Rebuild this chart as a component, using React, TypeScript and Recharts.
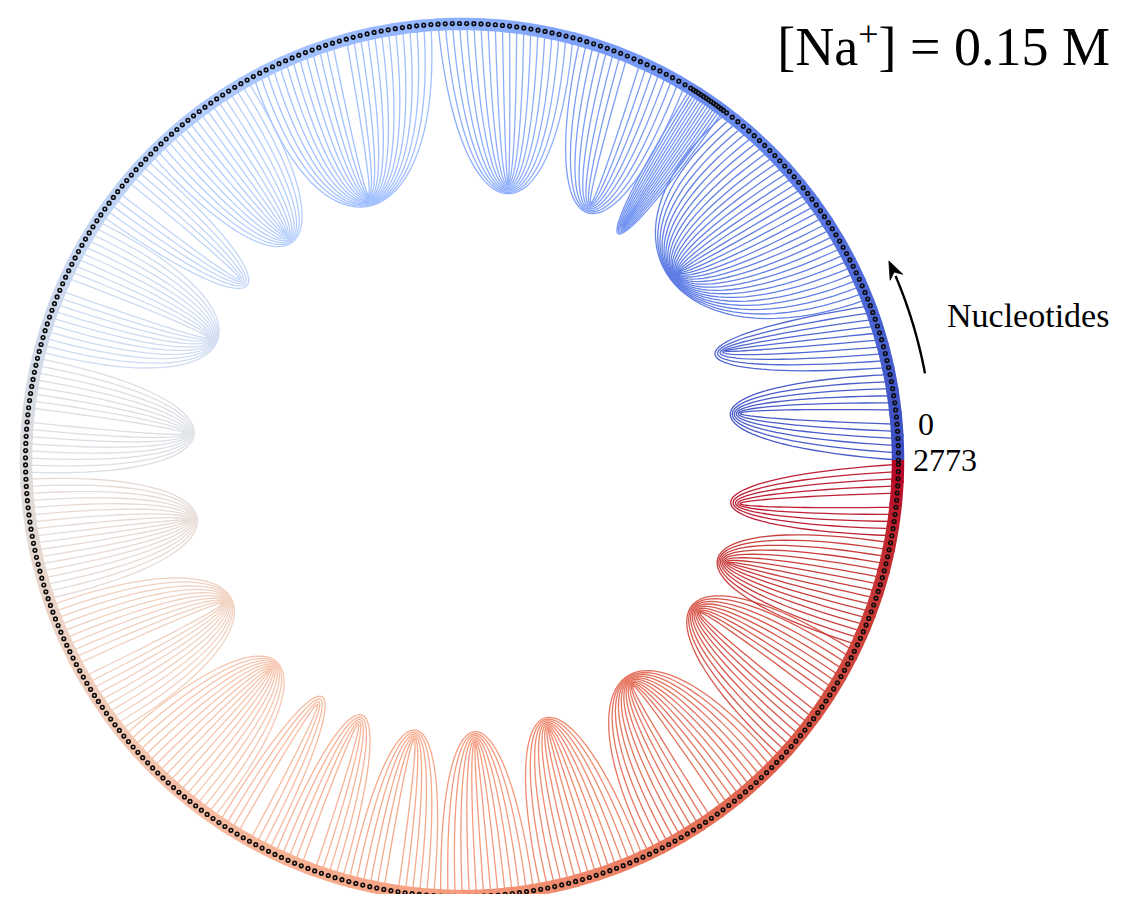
import React from 'react';
import { ComposedChart, Line, Scatter, XAxis, YAxis } from 'recharts';

// ---------- layout constants (chart-local pixels) ----------
const W = 1119;
const H = 886;
const CX = 454;
const CY = 452;
const R_RING = 436;
const R_BEAD = 436.5;

// ---------- data ----------
const NT_TOTAL = 2774; // nucleotides 0 .. 2773
const BEAD_STEP = 7.25; // nucleotides per coarse-grained bead
const DENSE_FROM = 410; // densely sampled single-strand region
const DENSE_TO = 450;
const DENSE_COUNT = 14;

// hairpin lobes (stem regions) : nucleotide range, tip angle (deg), tip radius (px)
const LOBE_START = [0, 89, 161, 408, 452, 573, 724, 920, 1045, 1127, 1281, 1406, 1533, 1688, 1819, 1884, 1961, 2057, 2158, 2273, 2443, 2581, 2693];
const LOBE_END = [89, 161, 408, 452, 573, 724, 920, 1045, 1127, 1281, 1406, 1533, 1688, 1819, 1884, 1961, 2057, 2158, 2273, 2443, 2581, 2693, 2774];
const TIP_ANGLE = [9.5, 22.5, 40.9, 55.4, 63.4, 80.6, 109.4, 127.9, 140.9, 154.3, 174.5, 192.3, 210.9, 227.5, 239.4, 248.6, 260.3, 272.7, 287.8, 307.1, 327.3, 339.0, 351.1];
const TIP_RADIUS = [272, 274, 276, 275, 277, 270, 270, 276, 277, 272, 269, 271, 269, 274, 275, 274, 274, 272, 271, 272, 272, 274, 272];

const END_LABELS = ['0', '2773'];
const TITLE = { pre: '[Na', sup: '+', post: '] = 0.15 M' };
const AXIS_LABEL = 'Nucleotides';

// coolwarm colour map lookup
const COOLWARM = [
  [59, 76, 192], [68, 90, 204], [77, 104, 215], [87, 117, 225], [98, 130, 234], [108, 142, 241],
  [119, 154, 247], [130, 165, 251], [141, 176, 254], [152, 185, 255], [163, 194, 255], [174, 201, 253],
  [184, 208, 249], [194, 213, 244], [204, 217, 238], [213, 219, 230], [221, 221, 221], [229, 216, 209],
  [236, 211, 197], [241, 204, 184], [245, 196, 173], [247, 187, 160], [247, 177, 148], [247, 166, 135],
  [244, 154, 123], [241, 141, 111], [236, 127, 99], [229, 112, 88], [222, 96, 77], [213, 80, 66],
  [203, 62, 56], [192, 40, 47], [180, 4, 38],
];

function coolwarm(f: number): string {
  const t = Math.max(0, Math.min(1, f)) * (COOLWARM.length - 1);
  const i = Math.min(COOLWARM.length - 2, Math.floor(t));
  const u = t - i;
  const c = COOLWARM[i].map((v, k) => Math.round(v + (COOLWARM[i + 1][k] - v) * u));
  return `rgb(${c[0]},${c[1]},${c[2]})`;
}

const ntToDeg = (nt: number) => (nt / NT_TOTAL) * 360;
function polar(deg: number, r: number) {
  const a = (deg * Math.PI) / 180;
  return { x: CX + r * Math.cos(a), y: CY - r * Math.sin(a) };
}

// bead positions (nucleotide coordinates)
const beadNts: number[] = [];
for (let nt = 0; nt < NT_TOTAL - 1; nt += BEAD_STEP) {
  if (nt >= DENSE_FROM - 2 && nt <= DENSE_TO + 2) continue;
  beadNts.push(nt);
}
for (let k = 0; k < DENSE_COUNT; k++) {
  beadNts.push(DENSE_FROM + (k * (DENSE_TO - DENSE_FROM)) / (DENSE_COUNT - 1));
}
beadNts.sort((a, b) => a - b);

const beadPoints = beadNts.map((nt) => polar(ntToDeg(nt), R_BEAD));

// base-pair curves (hairpins passing through the lobe tip)
const CUBIC_WEIGHT = 0.55;
type Curve = { id: string; color: string; pts: { x: number; y: number }[] };
const curves: Curve[] = [];
LOBE_START.forEach((s, li) => {
  const e = LOBE_END[li];
  const lb = beadNts.filter((nt) => nt >= s && nt < e);
  const n = lb.length;
  if (n < 2) return;
  const full = lb[n - 1] - lb[0];
  const color = coolwarm((s + e) / 2 / NT_TOTAL);
  for (let k = 0; k < Math.floor(n / 2); k++) {
    const a = lb[k];
    const b = lb[n - 1 - k];
    const w = (b - a) / full;
    const A = polar(ntToDeg(a), R_RING);
    const B = polar(ntToDeg(b), R_RING);
    const T = polar(TIP_ANGLE[li], TIP_RADIUS[li] + 12 * (1 - w));
    const M = { x: (A.x + B.x) / 2, y: (A.y + B.y) / 2 };
    const D = { x: T.x - M.x, y: T.y - M.y };
    const P1 = { x: A.x + (4 / 3) * D.x, y: A.y + (4 / 3) * D.y };
    const P2 = { x: B.x + (4 / 3) * D.x, y: B.y + (4 / 3) * D.y };
    const Q = { x: 2 * T.x - M.x, y: 2 * T.y - M.y };
    const pts = [];
    const N = 40;
    for (let i = 0; i <= N; i++) {
      const t = i / N;
      const c0 = (1 - t) ** 3;
      const c1 = 3 * t * (1 - t) ** 2;
      const c2 = 3 * t * t * (1 - t);
      const c3 = t ** 3;
      const cx = c0 * A.x + c1 * P1.x + c2 * P2.x + c3 * B.x;
      const cy = c0 * A.y + c1 * P1.y + c2 * P2.y + c3 * B.y;
      const q0 = (1 - t) * (1 - t);
      const q1 = 2 * t * (1 - t);
      const q2 = t * t;
      const qx = q0 * A.x + q1 * Q.x + q2 * B.x;
      const qy = q0 * A.y + q1 * Q.y + q2 * B.y;
      pts.push({
        x: CUBIC_WEIGHT * cx + (1 - CUBIC_WEIGHT) * qx,
        y: CUBIC_WEIGHT * cy + (1 - CUBIC_WEIGHT) * qy,
      });
    }
    curves.push({ id: `c${li}_${k}`, color, pts });
  }
});

// coloured ring
const RING_SEGMENTS = 120;
const ringSegs = Array.from({ length: RING_SEGMENTS }, (_, s) => {
  const d0 = (s * 360) / RING_SEGMENTS;
  const d1 = ((s + 1) * 360) / RING_SEGMENTS + (s < RING_SEGMENTS - 1 ? 0.4 : 0);
  const pts = [0, 1, 2, 3].map((j) => polar(d0 + ((d1 - d0) * j) / 3, R_RING));
  return { id: `r${s}`, color: coolwarm((s + 0.5) / RING_SEGMENTS), pts };
});

// direction arrow
const ARROW_R = 471;
const ARROW_FROM = 10.6;
const ARROW_TO = 23.0;
const ARROW_TIP = 25.0;
const arrowPts = Array.from({ length: 20 }, (_, i) => polar(ARROW_FROM + ((ARROW_TO - ARROW_FROM) * i) / 19, ARROW_R));
const arrowTip = [polar(ARROW_TIP, ARROW_R)];

const BeadShape = (props: any) => (
  <circle cx={props.cx} cy={props.cy} r={1.8} fill="none" stroke="#0d0d0d" strokeWidth={1.6} />
);

const ArrowHead = (props: any) => {
  const th = (ARROW_TIP * Math.PI) / 180;
  const dx = -Math.sin(th);
  const dy = -Math.cos(th);
  const nx = -dy;
  const ny = dx;
  const L = 18;
  const Wd = 7;
  const { cx, cy } = props;
  const bx = cx - L * dx;
  const by = cy - L * dy;
  const notchX = cx - L * 0.68 * dx;
  const notchY = cy - L * 0.68 * dy;
  const d = `M${cx},${cy} L${bx + Wd * nx},${by + Wd * ny} L${notchX},${notchY} L${bx - Wd * nx},${by - Wd * ny} Z`;
  return <path d={d} fill="#000" stroke="#000" strokeWidth={0.8} strokeLinejoin="miter" />;
};

export default function App() {
  return (
    <div style={{ position: 'relative', width: W, height: H }}>
      <ComposedChart width={W} height={H} margin={{ top: 0, right: 0, bottom: 0, left: 0 }}>
        <XAxis type="number" dataKey="x" domain={[0, W]} hide allowDataOverflow />
        <YAxis type="number" dataKey="y" domain={[0, H]} reversed hide allowDataOverflow />
        {curves.map((c) => (
          <Line
            key={c.id}
            data={c.pts}
            dataKey="y"
            type="linear"
            stroke={c.color}
            strokeWidth={1.3}
            strokeOpacity={0.95}
            dot={false}
            activeDot={false}
            isAnimationActive={false}
          />
        ))}
        {ringSegs.map((r) => (
          <Line
            key={r.id}
            data={r.pts}
            dataKey="y"
            type="linear"
            stroke={r.color}
            strokeWidth={12.5}
            dot={false}
            activeDot={false}
            isAnimationActive={false}
          />
        ))}
        <Line
          data={arrowPts}
          dataKey="y"
          type="monotone"
          stroke="#000"
          strokeWidth={2.4}
          dot={false}
          activeDot={false}
          isAnimationActive={false}
        />
        <Scatter data={beadPoints} dataKey="y" shape={BeadShape} isAnimationActive={false} />
        <Scatter data={arrowTip} dataKey="y" shape={ArrowHead} isAnimationActive={false} />
      </ComposedChart>
      <svg
        width={W}
        height={H}
        style={{ position: 'absolute', left: 0, top: 0, pointerEvents: 'none' }}
        fontFamily="'Liberation Serif', 'DejaVu Serif', serif"
      >
        <text x={1102} y={57} fontSize={54} textAnchor="end" fill="#000">
          <tspan>{TITLE.pre}</tspan>
          <tspan dy={-19} fontSize={36}>{TITLE.sup}</tspan>
          <tspan dy={19}>{TITLE.post}</tspan>
        </text>
        <text x={939} y={319} fontSize={34} fill="#000">{AXIS_LABEL}</text>
        <text x={918} y={427} fontSize={32} textAnchor="middle" fill="#000">{END_LABELS[0]}</text>
        <text x={905} y={463} fontSize={32} fill="#000">{END_LABELS[1]}</text>
      </svg>
    </div>
  );
}
